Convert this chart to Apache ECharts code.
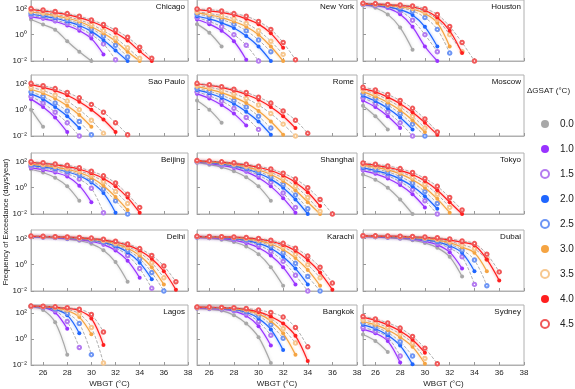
<!DOCTYPE html>
<html>
<head>
<meta charset="utf-8">
<script src="https://cdn.jsdelivr.net/npm/echarts@6/dist/echarts.min.js"></script>
<style>
  html, body { margin: 0; padding: 0; background: #fff; }
  #chart { width: 575px; height: 389px; }
</style>
</head>
<body>
<div id="chart"></div>
<script>
// WBGT bins start at 25 °C and step by 1 °C
const wbgtStart = 25;
const xTicks = [26, 28, 30, 32, 34, 36, 38];
const yTicks = [0.01, 1, 100];
const deltas = ['0.0', '1.0', '1.5', '2.0', '2.5', '3.0', '3.5', '4.0', '4.5'];
const hollow = [false, false, true, false, true, false, true, false, true];
const colors = ['#a8a8a8', '#9933ff', '#b57cf0', '#1f66ff', '#6d95f5', '#f5a442', '#f7c890', '#ff1f1f', '#f05858'];

const cities = ['Chicago', 'New York', 'Houston', 'Sao Paulo', 'Rome', 'Moscow', 'Beijing', 'Shanghai', 'Tokyo',
    'Delhi', 'Karachi', 'Dubai', 'Lagos', 'Bangkok', 'Sydney'];

// log10 of exceedance frequency (days/year), one row per ΔGSAT level
const chicagoLog = [
    [1.15, 0.77, 0.38, -0.5, -1.3, -2.0],
    [1.35, 1.2, 1.0, 0.7, 0.3, -0.3, -1.5],
    [1.45, 1.3, 1.1, 0.85, 0.5, 0.0, -0.7, -1.9],
    [1.55, 1.42, 1.25, 1.0, 0.7, 0.25, -0.4, -1.2, -2.0],
    [1.62, 1.5, 1.35, 1.12, 0.85, 0.45, -0.1, -0.8, -1.7],
    [1.72, 1.6, 1.45, 1.25, 1.0, 0.6, 0.1, -0.5, -1.3, -2.0],
    [1.8, 1.68, 1.55, 1.37, 1.12, 0.78, 0.3, -0.25, -1.0, -1.8],
    [1.92, 1.8, 1.68, 1.52, 1.3, 1.0, 0.62, 0.15, -0.45, -1.25, -2.0],
    [1.98, 1.87, 1.76, 1.6, 1.4, 1.12, 0.78, 0.35, -0.2, -0.95, -1.8]
];
const newYorkLog = [
    [0.8, 0.15, -0.9],
    [1.15, 0.8, 0.3, -0.5, -1.9],
    [1.3, 1.0, 0.6, 0.0, -0.8, -2.0],
    [1.4, 1.2, 0.9, 0.5, -0.1, -0.9, -2.0],
    [1.55, 1.4, 1.15, 0.8, 0.3, -0.4, -1.3],
    [1.65, 1.5, 1.3, 1.0, 0.6, 0.0, -0.9, -2.0],
    [1.75, 1.6, 1.45, 1.2, 0.85, 0.3, -0.5, -1.5],
    [1.9, 1.8, 1.7, 1.5, 1.2, 0.8, 0.1, -1.0],
    [1.95, 1.9, 1.8, 1.6, 1.4, 1.0, 0.4, -0.6, -1.9]
];
const houstonLog = [
    [2.3, 2.05, 1.54, 0.54, -1.15],
    [2.28, 2.2, 2.02, 1.55, 0.6, -0.9, -2.0],
    [2.3, 2.23, 2.1, 1.8, 1.1, 0.0, -1.3],
    [2.3, 2.25, 2.12, 1.9, 1.5, 0.6, -0.9],
    [2.32, 2.28, 2.2, 2.05, 1.8, 1.3, 0.4, -1.4],
    [2.34, 2.3, 2.22, 2.12, 1.95, 1.6, 0.9, -0.9],
    [2.35, 2.32, 2.26, 2.18, 2.05, 1.75, 1.15, 0.0, -1.3],
    [2.36, 2.34, 2.28, 2.22, 2.12, 1.85, 1.3, 0.3, -1.4],
    [2.38, 2.36, 2.3, 2.25, 2.18, 1.97, 1.54, 0.62, -0.6, -2.0]
];
const saoPauloLog = [
    [0.0, -1.3],
    [0.8, 0.2, -0.6, -1.7],
    [1.0, 0.5, -0.2, -1.0, -2.0],
    [1.2, 0.8, 0.2, -0.5, -1.4],
    [1.35, 1.0, 0.5, -0.1, -0.9, -1.9],
    [1.55, 1.25, 0.85, 0.3, -0.4, -1.3],
    [1.7, 1.45, 1.1, 0.65, 0.0, -0.8, -1.8],
    [1.9, 1.7, 1.45, 1.1, 0.6, 0.0, -0.75, -1.7],
    [2.0, 1.82, 1.6, 1.3, 0.9, 0.4, -0.2, -1.0, -1.9]
];
const romeLog = [
    [0.7, 0.0, -1.0],
    [1.2, 0.85, 0.35, -0.3, -1.2],
    [1.35, 1.05, 0.65, 0.1, -0.6, -1.5],
    [1.5, 1.25, 0.9, 0.45, -0.15, -0.9, -1.9],
    [1.6, 1.4, 1.1, 0.7, 0.2, -0.5, -1.4],
    [1.75, 1.55, 1.3, 0.95, 0.5, -0.1, -0.9, -1.9],
    [1.85, 1.7, 1.5, 1.2, 0.85, 0.35, -0.3, -1.1, -2.0],
    [1.95, 1.85, 1.7, 1.45, 1.15, 0.75, 0.2, -0.5, -1.4],
    [2.0, 1.9, 1.75, 1.55, 1.3, 0.95, 0.5, -0.1, -0.8, -1.8]
];
const moscowLog = [
    [0.3, -0.5, -1.5],
    [0.7, 0.2, -0.5, -1.4],
    [0.9, 0.45, -0.2, -1.0, -2.0],
    [1.05, 0.65, 0.1, -0.6, -1.5],
    [1.2, 0.85, 0.35, -0.3, -1.1, -2.0],
    [1.35, 1.0, 0.55, -0.05, -0.8, -1.7],
    [1.5, 1.2, 0.75, 0.2, -0.5, -1.4],
    [1.6, 1.35, 0.95, 0.45, -0.2, -1.0, -1.9],
    [1.7, 1.5, 1.15, 0.7, 0.1, -0.7, -1.7]
];
const beijingLog = [
    [1.4, 1.15, 0.75, 0.1, -1.0],
    [1.5, 1.35, 1.15, 0.85, 0.15, -1.1],
    [1.6, 1.47, 1.3, 1.05, 0.65, -0.05, -1.9],
    [1.7, 1.57, 1.42, 1.2, 0.9, 0.4, -0.4, -1.9],
    [1.75, 1.65, 1.5, 1.3, 1.0, 0.55, -0.1, -1.0, -2.0],
    [1.8, 1.7, 1.57, 1.4, 1.15, 0.75, 0.15, -0.7, -1.7],
    [1.85, 1.77, 1.65, 1.5, 1.27, 0.95, 0.45, -0.3, -1.2],
    [1.9, 1.85, 1.75, 1.6, 1.4, 1.1, 0.7, 0.1, -0.75, -1.9],
    [1.97, 1.9, 1.8, 1.7, 1.52, 1.25, 0.9, 0.35, -0.5, -1.5]
];
const shanghaiLog = [
    [1.9, 1.75, 1.55, 1.25, 0.8, 0.1, -1.0],
    [1.95, 1.85, 1.7, 1.5, 1.2, 0.75, 0.1, -0.8, -1.9],
    [1.97, 1.88, 1.75, 1.58, 1.32, 0.95, 0.4, -0.4, -1.5],
    [2.0, 1.92, 1.8, 1.65, 1.42, 1.1, 0.65, 0.0, -0.9, -2.0],
    [2.0, 1.94, 1.84, 1.7, 1.5, 1.22, 0.83, 0.25, -0.55, -1.6],
    [2.02, 1.96, 1.88, 1.76, 1.58, 1.34, 1.0, 0.5, -0.2, -1.1, -2.0],
    [2.03, 1.98, 1.91, 1.8, 1.65, 1.45, 1.15, 0.72, 0.1, -0.75, -1.8],
    [2.05, 2.0, 1.94, 1.85, 1.72, 1.55, 1.3, 0.92, 0.4, -0.35, -1.4],
    [2.06, 2.02, 1.96, 1.89, 1.78, 1.63, 1.42, 1.1, 0.65, 0.0, -0.9, -2.0]
];
const tokyoLog = [
    [1.0, 0.6, 0.0, -0.9, -2.0],
    [1.3, 1.05, 0.7, 0.2, -0.5, -1.5],
    [1.4, 1.2, 0.9, 0.45, -0.15, -1.0, -2.0],
    [1.5, 1.3, 1.05, 0.65, 0.1, -0.65, -1.6],
    [1.6, 1.42, 1.2, 0.85, 0.35, -0.3, -1.2],
    [1.7, 1.55, 1.35, 1.05, 0.6, 0.0, -0.85, -1.9],
    [1.75, 1.62, 1.45, 1.2, 0.8, 0.25, -0.5, -1.5],
    [1.82, 1.7, 1.55, 1.32, 1.0, 0.5, -0.2, -1.1, -2.0],
    [1.88, 1.78, 1.65, 1.45, 1.15, 0.7, 0.1, -0.75, -1.7]
];
const delhiLog = [
    [2.1, 2.07, 2.02, 1.94, 1.82, 1.58, 1.1, 0.2, -1.3],
    [2.12, 2.09, 2.05, 1.99, 1.9, 1.76, 1.52, 1.08, 0.3, -1.0],
    [2.13, 2.1, 2.07, 2.02, 1.94, 1.82, 1.62, 1.28, 0.7, -0.3, -1.8],
    [2.14, 2.11, 2.08, 2.04, 1.97, 1.86, 1.69, 1.4, 0.95, 0.15, -1.1],
    [2.15, 2.12, 2.09, 2.05, 1.99, 1.9, 1.75, 1.5, 1.1, 0.45, -0.6, -2.0],
    [2.15, 2.13, 2.1, 2.07, 2.01, 1.93, 1.8, 1.58, 1.25, 0.7, -0.2, -1.5],
    [2.16, 2.14, 2.11, 2.08, 2.03, 1.96, 1.84, 1.65, 1.37, 0.9, 0.15, -1.0],
    [2.16, 2.14, 2.12, 2.09, 2.05, 1.99, 1.89, 1.72, 1.48, 1.08, 0.45, -0.5, -1.9],
    [2.17, 2.15, 2.13, 2.1, 2.07, 2.02, 1.93, 1.78, 1.57, 1.22, 0.7, -0.1, -1.3]
];
const karachiLog = [
    [2.05, 2.0, 1.9, 1.72, 1.38, 0.8, -0.2, -1.6],
    [2.08, 2.05, 1.98, 1.86, 1.65, 1.28, 0.7, -0.2, -1.5],
    [2.1, 2.07, 2.02, 1.93, 1.77, 1.48, 1.0, 0.25, -0.8, -2.0],
    [2.11, 2.09, 2.05, 1.98, 1.85, 1.62, 1.25, 0.6, -0.3, -1.5],
    [2.12, 2.1, 2.07, 2.02, 1.91, 1.73, 1.42, 0.9, 0.1, -0.9, -2.0],
    [2.13, 2.11, 2.09, 2.05, 1.97, 1.82, 1.57, 1.15, 0.5, -0.4, -1.6],
    [2.14, 2.12, 2.1, 2.07, 2.01, 1.89, 1.69, 1.35, 0.8, 0.0, -1.0],
    [2.15, 2.13, 2.11, 2.09, 2.04, 1.94, 1.78, 1.5, 1.05, 0.35, -0.6, -1.9],
    [2.15, 2.14, 2.12, 2.1, 2.07, 1.99, 1.85, 1.62, 1.25, 0.65, -0.2, -1.4]
];
const dubaiLog = [
    [2.12, 2.09, 2.04, 1.97, 1.85, 1.65, 1.28, 0.6, -0.9],
    [2.14, 2.12, 2.08, 2.03, 1.94, 1.78, 1.5, 0.95, -0.3],
    [2.15, 2.13, 2.1, 2.05, 1.98, 1.85, 1.63, 1.25, 0.6, -1.5],
    [2.16, 2.14, 2.11, 2.07, 2.01, 1.9, 1.73, 1.43, 0.9, -0.5],
    [2.17, 2.15, 2.13, 2.09, 2.04, 1.95, 1.8, 1.56, 1.12, 0.35, -1.6],
    [2.17, 2.16, 2.14, 2.11, 2.07, 1.99, 1.87, 1.67, 1.32, 0.9, -0.5],
    [2.18, 2.17, 2.15, 2.13, 2.09, 2.03, 1.93, 1.77, 1.5, 1.2, 0.4],
    [2.19, 2.18, 2.17, 2.15, 2.12, 2.07, 1.99, 1.87, 1.7, 1.47, 0.4, -1.2],
    [2.2, 2.19, 2.18, 2.16, 2.14, 2.1, 2.04, 1.95, 1.8, 1.6, 0.8, -0.55]
];
const lagosLog = [
    [2.5, 2.25, 1.3, -1.2],
    [2.52, 2.45, 2.05, 0.8],
    [2.52, 2.47, 2.2, 1.35, -0.65],
    [2.53, 2.48, 2.3, 1.85, 0.45],
    [2.53, 2.5, 2.36, 2.0, 1.2, -1.2],
    [2.54, 2.51, 2.42, 2.2, 1.7, 0.37],
    [2.54, 2.52, 2.45, 2.3, 1.95, 0.9, -1.85],
    [2.55, 2.53, 2.47, 2.38, 2.2, 1.6, -0.45],
    [2.55, 2.54, 2.49, 2.42, 2.3, 1.9, 0.55]
];
const bangkokLog = [
    [2.35, 2.3, 2.2, 1.85, 1.2, 0.15, -1.85],
    [2.4, 2.37, 2.3, 2.15, 1.8, 1.0, -0.5],
    [2.42, 2.4, 2.34, 2.22, 1.95, 1.35, 0.3],
    [2.44, 2.42, 2.37, 2.28, 2.07, 1.6, 0.75, -0.85],
    [2.45, 2.43, 2.39, 2.32, 2.15, 1.8, 1.1, 0.07],
    [2.45, 2.44, 2.41, 2.35, 2.22, 1.95, 1.4, 0.45, -1.2],
    [2.46, 2.45, 2.42, 2.38, 2.28, 2.05, 1.6, 0.8, -0.3],
    [2.47, 2.46, 2.44, 2.4, 2.3, 2.1, 1.75, 1.2, 0.25, -1.7],
    [2.48, 2.47, 2.45, 2.42, 2.36, 2.25, 2.05, 1.7, 0.9, -0.6]
];
const sydneyLog = [
    [0.35, -0.15, -1.0],
    [0.75, 0.45, -0.15, -1.8],
    [0.9, 0.62, 0.15, -1.3],
    [1.1, 0.8, 0.3, -0.5, -1.95],
    [1.25, 0.95, 0.5, -0.2, -1.3],
    [1.35, 1.1, 0.7, 0.15, -0.6, -1.9],
    [1.5, 1.25, 0.9, 0.4, -0.3, -1.5],
    [1.68, 1.45, 1.1, 0.62, -0.05, -1.05],
    [1.75, 1.55, 1.25, 0.85, 0.2, -0.7, -1.9]
];

const cityData = [chicagoLog, newYorkLog, houstonLog, saoPauloLog, romeLog, moscowLog, beijingLog, shanghaiLog, tokyoLog,
    delhiLog, karachiLog, dubaiLog, lagosLog, bangkokLog, sydneyLog];

// panel layout
const colLeft = [31, 197, 363];
const colWidth = [157, 160, 161];
const rowTop = [0, 75, 153, 230, 305];
const rowHeight = 61;
const font = 'Liberation Sans, Arial, sans-serif';
const supers = { '-2': '⁻²', '0': '⁰', '2': '²' };

let grids = [], xAxes = [], yAxes = [], series = [], texts = [];

cities.forEach((city, c) => {
    let row = Math.floor(c / 3), col = c % 3;
    grids.push({
        left: colLeft[col], top: rowTop[row], width: colWidth[col], height: rowHeight,
        show: true, borderColor: '#b0b0b0', borderWidth: 1, backgroundColor: 'transparent'
    });
    xAxes.push({
        type: 'value', gridIndex: c, min: 25, max: 38,
        name: row == 4 ? 'WBGT (°C)' : '', nameLocation: 'middle', nameGap: 15,
        nameTextStyle: { fontSize: 8, color: '#222', fontFamily: font },
        axisLine: { lineStyle: { color: '#b0b0b0' } },
        axisTick: { inside: true, length: 3, customValues: xTicks, lineStyle: { color: '#999' } },
        axisLabel: { show: row == 4, customValues: xTicks, fontSize: 8, margin: 4, color: '#222', fontFamily: font },
        splitLine: { show: false }
    });
    yAxes.push({
        type: 'log', logBase: 10, gridIndex: c, min: 0.01, max: 430,
        axisLine: { show: true, lineStyle: { color: '#b0b0b0' } },
        axisTick: { inside: true, length: 3, customValues: yTicks, lineStyle: { color: '#999' } },
        axisLabel: {
            show: col == 0, customValues: yTicks, fontSize: 8, margin: 4, color: '#222', fontFamily: font,
            formatter: function (v) {
                let e = Math.round(Math.log10(v));
                return supers[e] ? '10' + supers[e] : '';
            }
        },
        splitLine: { show: false },
        minorTick: { show: false }
    });
    cityData[c].forEach((vals, k) => {
        series.push({
            type: 'line',
            name: deltas[k],
            xAxisIndex: c,
            yAxisIndex: c,
            data: vals.map((v, i) => [wbgtStart + i, Math.pow(10, v)]),
            smooth: 0.35,
            symbol: hollow[k] ? 'emptyCircle' : 'circle',
            symbolSize: hollow[k] ? 3.5 : 4,
            itemStyle: { color: colors[k], borderWidth: hollow[k] ? 0.9 : 0 },
            lineStyle: hollow[k]
                ? { color: '#9a9a9a', type: 'dashed', width: 0.8 }
                : { color: colors[k], width: 1.2, shadowColor: colors[k] + '88', shadowBlur: 3 },
            z: 2 + k,
            animation: false
        });
    });
    texts.push({
        type: 'text',
        right: 575 - (colLeft[col] + colWidth[col]) + 3,
        top: rowTop[row] + 3,
        style: { text: city, fontSize: 8, fill: '#111', fontFamily: font }
    });
});

texts.push({
    type: 'text', rotation: Math.PI / 2, x: 2, y: 222,
    style: { text: 'Frequency of Exceedance (days/year)', fontSize: 7.5, fill: '#222', fontFamily: font, textAlign: 'center', textVerticalAlign: 'top' }
});
texts.push({
    type: 'text', left: 527, top: 87,
    style: { text: 'ΔGSAT (°C)', fontSize: 8, fill: '#222', fontFamily: font }
});

let chart = echarts.init(document.getElementById('chart'), null, { renderer: 'canvas' });
chart.setOption({
    animation: false,
    backgroundColor: '#fff',
    grid: grids,
    xAxis: xAxes,
    yAxis: yAxes,
    series: series,
    graphic: texts,
    legend: {
        orient: 'vertical',
        left: 535,
        top: 114,
        itemWidth: 8,
        itemHeight: 8,
        itemGap: 15,
        data: deltas.map((d, k) => ({ name: d, icon: hollow[k] ? 'emptyCircle' : 'circle' })),
        textStyle: { fontSize: 10, color: '#222', fontFamily: font, padding: [0, 0, 0, 6], lineHeight: 8 },
        selectedMode: false
    }
});
</script>
</body>
</html>
